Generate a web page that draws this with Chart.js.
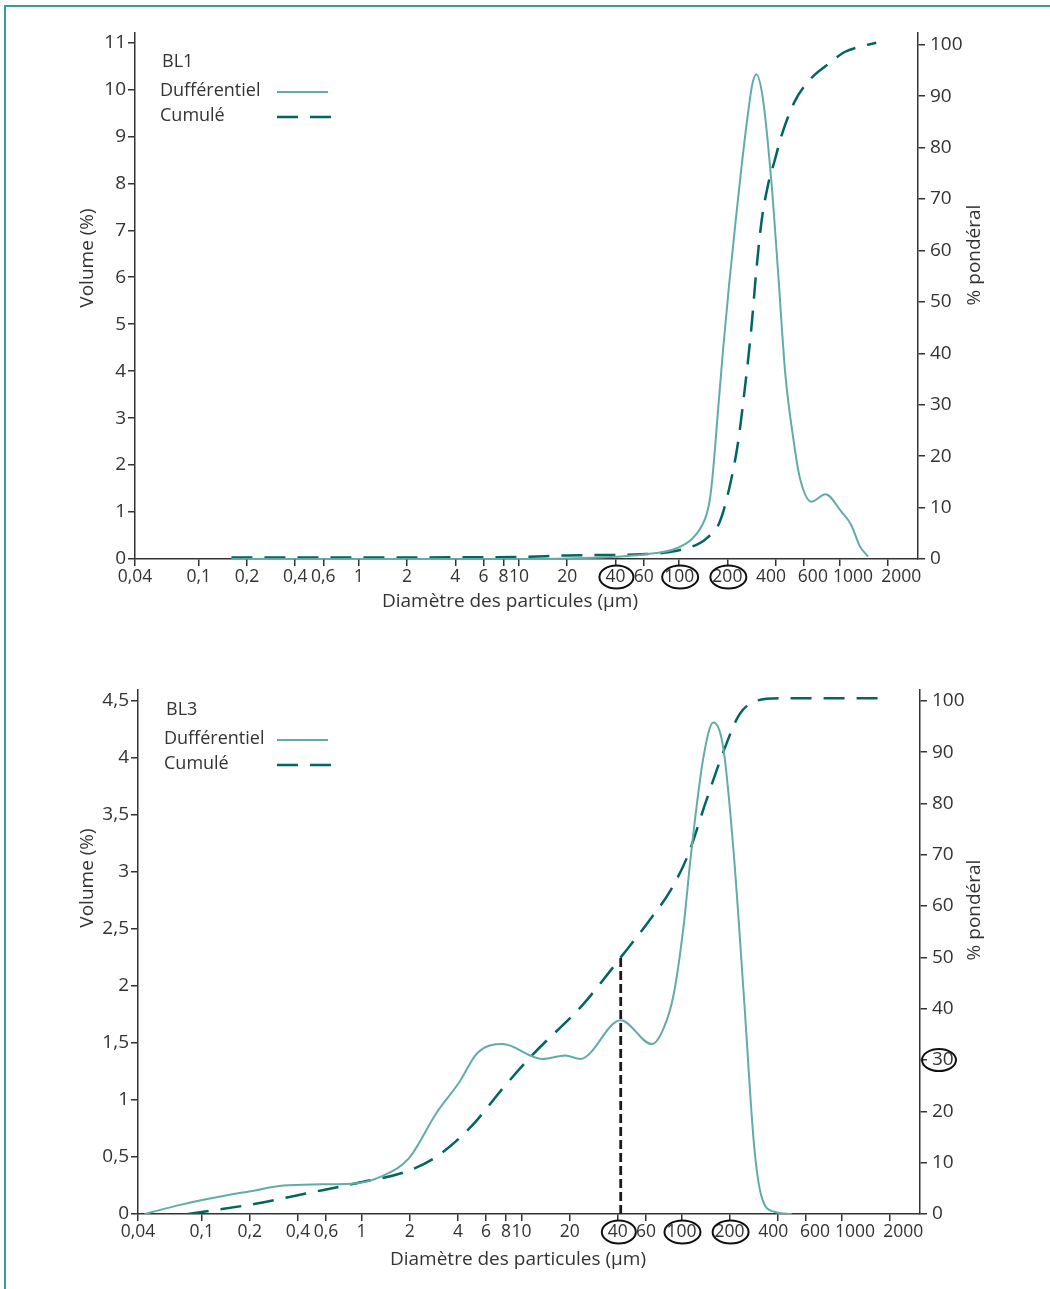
<!DOCTYPE html>
<html>
<head>
<meta charset="utf-8">
<title>BL1 / BL3 - granulométrie</title>
<script src="https://cdn.jsdelivr.net/npm/chart.js@4.4.0/dist/chart.umd.js"></script>
<style>
  html, body { margin: 0; padding: 0; background: #fff; }
  body { width: 1050px; height: 1289px; position: relative; overflow: hidden; }
  .frame { position: absolute; left: 4px; top: 5px; width: 1100px; height: 1320px;
           border-top: 2px solid #3a9c92; border-left: 2px solid #3a9c92; }
  .box { position: absolute; left: 0; width: 1050px; }
  #box1 { top: 0; height: 640px; }
  #box2 { top: 650px; height: 639px; }
</style>
</head>
<body>
<div class="frame"></div>
<div class="box" id="box1"><canvas id="bl1Chart"></canvas></div>
<div class="box" id="box2"><canvas id="bl3Chart"></canvas></div>
<script>
// Diameter ticks (µm), shared by both charts
const xTickValues = [0.04, 0.1, 0.2, 0.4, 0.6, 1, 2, 4, 6, 8, 10, 20, 40, 60, 100, 200, 400, 600, 1000, 2000];
const circledX = [40, 100, 200];

// BL1 - differential volume (%)
const bl1DiffX = [0.16, 1, 10, 20, 40, 58, 98, 128, 148, 156, 163, 175, 188, 205, 224, 244, 266, 286, 303, 333, 376, 414, 460, 521, 565, 668, 820, 1029, 1189, 1339, 1511];
const bl1DiffY = [0, 0, 0, 0.01, 0.05, 0.09, 0.24, 0.53, 0.94, 1.3, 1.9, 3.18, 4.46, 5.84, 7.12, 8.29, 9.36, 10.1, 10.32, 9.81, 8.06, 6.14, 3.94, 2.47, 1.75, 1.22, 1.38, 1.01, 0.72, 0.28, 0.05];
// BL1 - cumulative (% pondéral)
const bl1CumX = [0.16, 1, 10, 20, 40, 58, 93, 131, 151, 179, 206, 233, 256, 282, 303, 326, 359, 395, 434, 525, 668, 849, 1079, 1372, 1701];
const bl1CumY = [0.3, 0.3, 0.4, 0.7, 0.8, 0.9, 1.5, 2.9, 4.2, 7.2, 13.9, 22.6, 32.7, 44.7, 56, 65.4, 72.8, 77.5, 82.2, 88.9, 93.5, 96.2, 98.6, 99.7, 100.4];
const bl1LeftTicks = [0, 1, 2, 3, 4, 5, 6, 7, 8, 9, 10, 11];

// BL3 - differential volume (%)
const bl3DiffX = [0.044, 0.0735, 0.117, 0.202, 0.324, 0.557, 0.93, 1.33, 1.98, 2.95, 4.1, 5.28, 7.6, 13.5, 18.8, 23.3, 41.7, 65.3, 77.4, 89.5, 103, 115, 137, 158, 183, 212, 245, 285, 317, 380, 489];
const bl3DiffY = [0, 0.08, 0.14, 0.2, 0.25, 0.26, 0.27, 0.33, 0.49, 0.89, 1.16, 1.41, 1.49, 1.36, 1.39, 1.36, 1.70, 1.49, 1.63, 1.93, 2.52, 3.17, 4.0, 4.31, 4.08, 3.17, 1.93, 0.59, 0.15, 0.02, 0];
// BL3 - cumulative (% pondéral)
const bl3CumX = [0.082, 0.217, 0.45, 0.93, 1.91, 2.95, 4.9, 7.6, 11.7, 24.2, 41.7, 62, 86, 110, 142, 183, 230, 294, 407, 1800];
const bl3CumY = [0, 2.0, 4.0, 6.0, 8.3, 11.2, 17.2, 24.4, 31, 40.8, 50, 56.9, 63.2, 70, 80.3, 90.1, 97.3, 100, 100.5, 100.5];
const bl3LeftTicks = [0, 0.5, 1, 1.5, 2, 2.5, 3, 3.5, 4, 4.5];
// d50 marker
const bl3MarkerX = [41.7, 41.7];
const bl3MarkerY = [0, 50];

const rightTicks = [0, 10, 20, 30, 40, 50, 60, 70, 80, 90, 100];

const FONT = '"Open Sans", "DejaVu Sans", sans-serif';
const textColor = '#333333';
const axisColor = '#333333';
const diffColor = '#62aca7';
const cumColor = '#00665e';

// the printed labels of the large sizes sit a little off their tick marks
const labelPad = { 400: [0, 2], 600: [4, 0], 1000: [6, 0], 2000: [6, 0] };

function pts(xs, ys) {
    return xs.map(function(x, i) { return { x: x, y: ys[i] }; });
}
function comma(v) {
    return String(v).replace('.', ',');
}
function xLabel(v) {
    const s = comma(v);
    const p = labelPad[v];
    if (!p) return s;
    return ' '.repeat(p[0]) + s + ' '.repeat(p[1]);
}

// draws the in-plot legend, the axis titles and the hand-drawn circles
const overlayPlugin = {
    id: 'overlay',
    afterDraw: function(chart, args, o) {
        const ctx = chart.ctx;
        const xs = chart.scales.x;
        const y2 = chart.scales.y2;
        ctx.save();
        ctx.fillStyle = textColor;
        ctx.textBaseline = 'middle';
        ctx.textAlign = 'left';
        ctx.font = '18px ' + FONT;
        ctx.fillText(o.name, o.legX + 2, o.legY);
        ctx.fillText('Dufférentiel', o.legX, o.legY + 29);
        ctx.fillText('Cumulé', o.legX, o.legY + 54);

        ctx.lineWidth = 2;
        ctx.strokeStyle = diffColor;
        ctx.beginPath();
        ctx.moveTo(277, o.legY + 30);
        ctx.lineTo(328, o.legY + 30);
        ctx.stroke();
        ctx.lineWidth = 2.5;
        ctx.strokeStyle = cumColor;
        ctx.setLineDash([21, 12]);
        ctx.beginPath();
        ctx.moveTo(277, o.legY + 55);
        ctx.lineTo(331, o.legY + 55);
        ctx.stroke();
        ctx.setLineDash([]);

        // axis titles
        ctx.font = '19px ' + FONT;
        ctx.textAlign = 'center';
        ctx.fillText('Diamètre des particules (µm)', o.xTitleX, o.xTitleY);
        ctx.save();
        ctx.translate(88, o.leftTitleY);
        ctx.rotate(-Math.PI / 2);
        ctx.fillText('Volume (%)', 0, 0);
        ctx.restore();
        ctx.save();
        ctx.translate(975, o.rightTitleY);
        ctx.rotate(-Math.PI / 2);
        ctx.fillText('% pondéral', 0, 0);
        ctx.restore();

        // circles round some tick labels
        ctx.strokeStyle = '#111';
        ctx.lineWidth = 2;
        circledX.forEach(function(v) {
            const cx = xs.getPixelForValue(v) + 1;
            ctx.beginPath();
            ctx.ellipse(cx, xs.top + 18, v < 100 ? 17 : 18, 11.5, 0, 0, Math.PI * 2);
            ctx.stroke();
        });
        if (o.circleRight !== undefined) {
            ctx.beginPath();
            ctx.ellipse(y2.left + 19, y2.getPixelForValue(o.circleRight), 17, 11, 0, 0, Math.PI * 2);
            ctx.stroke();
        }
        ctx.restore();
    }
};

function makeChart(canvasId, cfg) {
    const datasets = [{
        label: 'Dufférentiel',
        data: pts(cfg.diffX, cfg.diffY),
        yAxisID: 'y',
        borderColor: diffColor,
        borderWidth: 2,
        pointRadius: 0,
        cubicInterpolationMode: 'monotone',
        fill: false
    }, {
        label: 'Cumulé',
        data: pts(cfg.cumX, cfg.cumY),
        yAxisID: 'y2',
        borderColor: cumColor,
        borderWidth: 2.5,
        borderDash: [21, 12],
        pointRadius: 0,
        cubicInterpolationMode: 'monotone',
        fill: false
    }];
    if (cfg.markerX) {
        datasets.push({
            label: 'd50',
            data: pts(cfg.markerX, cfg.markerY),
            yAxisID: 'y2',
            borderColor: '#1a1a1a',
            borderWidth: 2.8,
            borderDash: [9, 4],
            pointRadius: 0,
            fill: false
        });
    }

    const xFont = { family: FONT, size: 17.5 };
    const yFont = { family: FONT, size: 19 };
    const grid = { display: true, drawOnChartArea: false, drawTicks: true, tickLength: 7, color: axisColor, tickColor: axisColor, lineWidth: 1.5 };
    const border = { display: true, color: axisColor, width: 1.5 };

    return new Chart(document.getElementById(canvasId), {
        type: 'line',
        data: { datasets: datasets },
        plugins: [overlayPlugin],
        options: {
            responsive: true,
            maintainAspectRatio: false,
            animation: false,
            layout: { padding: { top: cfg.top, left: 0, right: 0, bottom: 0 } },
            plugins: {
                legend: { display: false },
                tooltip: { enabled: false },
                overlay: cfg.overlay
            },
            scales: {
                x: {
                    type: 'logarithmic',
                    min: 0.04,
                    max: 3100,
                    afterBuildTicks: function(s) { s.ticks = xTickValues.map(function(v) { return { value: v }; }); },
                    afterFit: function(s) { s.height = cfg.xHeight; },
                    border: border,
                    grid: grid,
                    ticks: { autoSkip: false, maxRotation: 0, padding: 1, color: textColor, font: xFont, callback: function(v) { return xLabel(v); } }
                },
                y: {
                    position: 'left',
                    min: 0,
                    max: cfg.leftMax,
                    afterBuildTicks: function(s) { s.ticks = cfg.leftTicks.map(function(v) { return { value: v }; }); },
                    afterFit: function(s) { s.width = cfg.leftWidth; },
                    border: border,
                    grid: grid,
                    ticks: { padding: 2, color: textColor, font: yFont, callback: function(v) { return comma(v); } }
                },
                y2: {
                    position: 'right',
                    min: 0,
                    max: cfg.rightMax,
                    afterBuildTicks: function(s) { s.ticks = rightTicks.map(function(v) { return { value: v }; }); },
                    afterFit: function(s) { s.width = cfg.rightWidth; },
                    border: border,
                    grid: grid,
                    ticks: { padding: 5, color: textColor, font: yFont }
                }
            }
        }
    });
}

makeChart('bl1Chart', {
    diffX: bl1DiffX, diffY: bl1DiffY, cumX: bl1CumX, cumY: bl1CumY,
    leftTicks: bl1LeftTicks, leftMax: 11.2, rightMax: 102.3,
    top: 33, xHeight: 81, leftWidth: 135, rightWidth: 132,
    overlay: { name: 'BL1', legX: 160, legY: 62, xTitleX: 510, xTitleY: 602, leftTitleY: 258, rightTitleY: 255 }
});

makeChart('bl3Chart', {
    diffX: bl3DiffX, diffY: bl3DiffY, cumX: bl3CumX, cumY: bl3CumY,
    markerX: bl3MarkerX, markerY: bl3MarkerY,
    leftTicks: bl3LeftTicks, leftMax: 4.596, rightMax: 102.1,
    top: 40, xHeight: 75, leftWidth: 138, rightWidth: 130,
    overlay: { name: 'BL3', legX: 164, legY: 60, xTitleX: 518, xTitleY: 610, leftTitleY: 228, rightTitleY: 260, circleRight: 30 }
});
</script>
</body>
</html>
